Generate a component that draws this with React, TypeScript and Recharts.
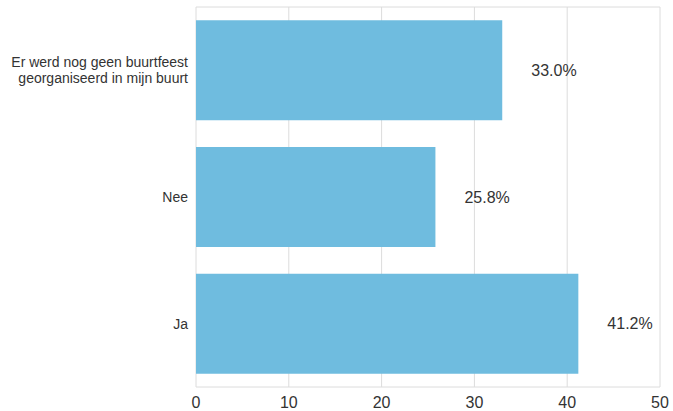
import { BarChart, Bar, XAxis, YAxis, CartesianGrid, LabelList } from 'recharts';

const categories = ['Er werd nog geen buurtfeest\ngeorganiseerd in mijn buurt', 'Nee', 'Ja'];
const percentages = [33.0, 25.8, 41.2];
const xTicks = [0, 10, 20, 30, 40, 50];

const chartData = categories.map((name, i) => ({ name, value: percentages[i] }));

const FONT = '"Liberation Sans", Arial, sans-serif';

function CategoryTick({ x, y, payload }: any) {
  const lines = String(payload.value).split('\n');
  const lineHeight = 16;
  const startY = y - ((lines.length - 1) * lineHeight) / 2;
  return (
    <text x={x} y={startY} textAnchor="end" fill="#333" fontSize={14} fontFamily={FONT} dominantBaseline="central">
      {lines.map((l, i) => (
        <tspan key={i} x={x} dy={i === 0 ? 0 : lineHeight}>
          {l}
        </tspan>
      ))}
    </text>
  );
}

export default function App() {
  return (
    <div style={{ position: 'absolute', left: 0, top: 0, background: '#fff' }}>
      <BarChart
        width={673}
        height={411}
        data={chartData}
        layout="vertical"
        margin={{ top: 6, right: 13, left: 0, bottom: 0 }}
        barCategoryGap="10.5%"
      >
        <CartesianGrid stroke="#dcdcdc" horizontal={false} />
        <XAxis
          type="number"
          domain={[0, 50]}
          ticks={xTicks}
          height={24}
          tickLine={false}
          axisLine={{ stroke: '#dcdcdc' }}
          tick={{ fill: '#333', fontSize: 16, fontFamily: FONT }}
          tickMargin={4}
        />
        <XAxis
          xAxisId="top"
          orientation="top"
          type="number"
          domain={[0, 50]}
          height={1}
          tick={false}
          tickLine={false}
          axisLine={{ stroke: '#dcdcdc' }}
        />
        <YAxis
          type="category"
          dataKey="name"
          width={196}
          tickLine={false}
          axisLine={false}
          tickMargin={2}
          tick={<CategoryTick />}
        />
        <Bar dataKey="value" fill="#6fbcdf" isAnimationActive={false}>
          <LabelList
            dataKey="value"
            position="right"
            offset={29}
            formatter={(v: any) => `${Number(v).toFixed(1)}%`}
            style={{ fill: '#333', fontSize: 16, fontFamily: FONT }}
          />
        </Bar>
      </BarChart>
    </div>
  );
}
